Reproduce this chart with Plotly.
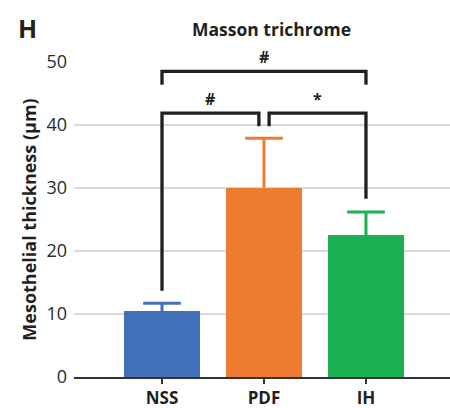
import plotly.graph_objects as go

categories = ["NSS", "PDF", "IH"]
means = [10.45, 30.05, 22.5]
errors = [1.25, 7.85, 3.7]
colors = ["#4270B8", "#EC7D30", "#1BB152"]
y_ticks = [0, 10, 20, 30, 40, 50]

# significance brackets: (x_left, x_right, y_bar, y_left_end, y_right_end, label)
brackets = [
    (0, 2, 48.5, 46.4, 46.4, "#"),
    (0, 0.95, 41.9, 13.7, 39.8, "#"),
    (1.05, 2, 41.9, 39.8, 28.3, "*"),
]

FONT = "Open Sans"
INK = "#231f20"
CAP = 0.185

fig = go.Figure()
for i, c in enumerate(categories):
    fig.add_trace(go.Bar(
        x=[i], y=[means[i]], width=0.745,
        marker=dict(color=colors[i], line=dict(width=0)),
        showlegend=False, hoverinfo="skip",
    ))
    top = means[i] + errors[i]
    fig.add_trace(go.Scatter(
        x=[i, i, None, i - CAP, i + CAP],
        y=[means[i], top, None, top, top],
        mode="lines", line=dict(color=colors[i], width=3),
        showlegend=False, hoverinfo="skip",
    ))

shapes = []
annotations = []
for (xl, xr, yb, yle, yre, lab) in brackets:
    shapes.append(dict(type="path", xref="x", yref="y",
                       path=f"M {xl},{yle} L {xl},{yb} L {xr},{yb} L {xr},{yre}",
                       line=dict(color=INK, width=3.3)))
    annotations.append(dict(x=(xl + xr) / 2, y=yb, xref="x", yref="y", text=f"<b>{lab}</b>",
                            showarrow=False, yanchor="bottom", yshift=1,
                            font=dict(family=FONT, size=16, color=INK)))

annotations += [
    dict(x=(271.5 - 74) / 376, y=1 + (61.5 - 28) / 315.5, xref="paper", yref="paper",
         text="<b>Masson trichrome</b>", showarrow=False, yanchor="middle",
         font=dict(family=FONT, size=17.5, color=INK)),
    dict(x=(27.5 - 74) / 376, y=1 + (61.5 - 27) / 315.5, xref="paper", yref="paper",
         text="<b>H</b>", showarrow=False, yanchor="middle", xanchor="center",
         font=dict(family=FONT, size=25, color=INK)),
]

fig.update_layout(
    width=450, height=408,
    margin=dict(l=74, r=0, t=61.5, b=31),
    plot_bgcolor="white", paper_bgcolor="white",
    bargap=0,
    shapes=shapes,
    annotations=annotations,
    xaxis=dict(
        range=[-0.863, 2.824], tickmode="array", tickvals=[0, 1, 2],
        ticktext=[f"<b>{c}</b>" for c in categories],
        tickfont=dict(family=FONT, size=17, color=INK),
        showline=True, linecolor="#333333", linewidth=2,
        ticks="outside", ticklen=5, tickwidth=2, tickcolor="#333333",
        showgrid=False, zeroline=False,
    ),
    yaxis=dict(
        range=[0, 50], tickvals=y_ticks,
        tickfont=dict(family=FONT, size=18, color="#2a2a2a"),
        showgrid=True, gridcolor="#d9d9d9", gridwidth=1.5,
        zeroline=False, showline=False, ticks="",
        ticklabelstandoff=6,
        title=dict(text="<b>Mesothelial thickness (µm)</b>", standoff=5,
                   font=dict(family=FONT, size=18, color=INK)),
    ),
)
fig.write_html("out.html")
